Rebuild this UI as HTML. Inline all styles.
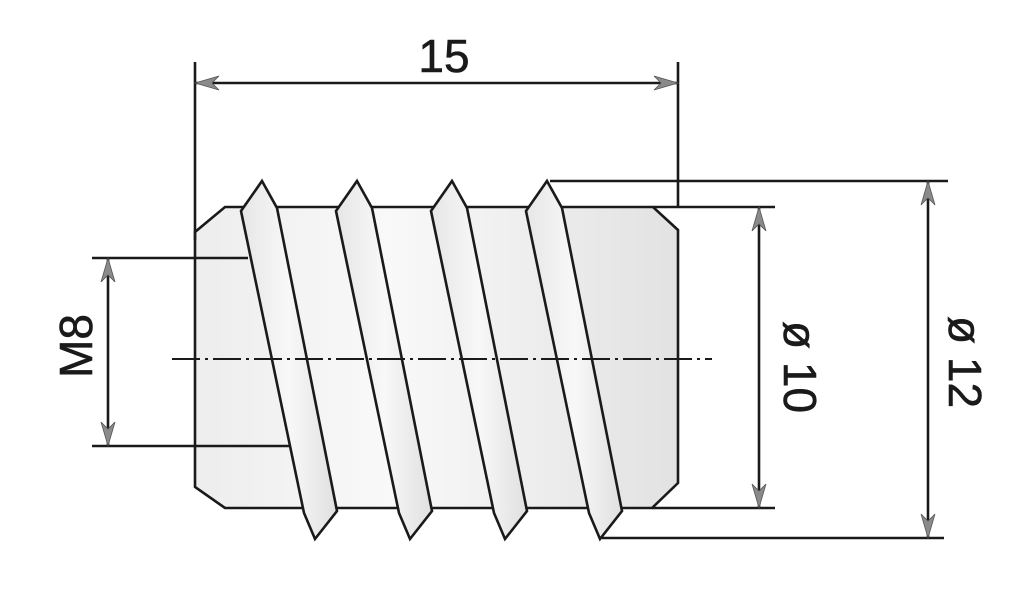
<!DOCTYPE html>
<html><head><style>html,body{margin:0;padding:0;background:#fff}svg{display:block}</style></head>
<body>
<svg width="1024" height="605" viewBox="0 0 1024 605" xmlns="http://www.w3.org/2000/svg">
<defs>
<linearGradient id="g" x1="0" y1="0" x2="1" y2="0">
<stop offset="0" stop-color="#e6e6e7"/><stop offset="0.5" stop-color="#f8f8f8"/><stop offset="1" stop-color="#e0e0e1"/>
</linearGradient>
<linearGradient id="gb" x1="0" y1="0" x2="1" y2="0">
<stop offset="0" stop-color="#ededed"/><stop offset="0.4" stop-color="#f9f9f9"/><stop offset="1" stop-color="#e2e2e3"/>
</linearGradient>
<g id="ah"><path d="M0 0 L-7 24 L0 17 L7 24 Z" fill="#8a8a8a" stroke="#555" stroke-width="0.8"/></g>
</defs>
<g stroke="#1a1a1a" stroke-width="2.6" fill="none" stroke-linejoin="miter">
<polygon points="225,207 653,207 678,230 678,483 652,508 225,508 195,487 195,232" fill="url(#gb)"/>
<g fill="url(#g)">
<polygon points="262,181 277,208 337,511 315,539 304,513 241,211"/>
<polygon points="357,181 372,208 432,511 410,539 399,513 336,211"/>
<polygon points="452,181 467,208 527,511 505,539 494,513 431,211"/>
<polygon points="547,181 562,208 622,511 600,539 589,513 526,211"/>
</g>
<line x1="195" y1="62" x2="195" y2="240"/>
<line x1="678" y1="62" x2="678" y2="207"/>
<line x1="550" y1="181" x2="948" y2="181"/>
<line x1="602" y1="538" x2="944" y2="538"/>
<line x1="653" y1="207" x2="775" y2="207"/>
<line x1="652" y1="508" x2="775" y2="508"/>
<line x1="92" y1="258" x2="248" y2="258"/>
<line x1="92" y1="446" x2="290" y2="446"/>
<line x1="195" y1="83" x2="678" y2="83"/>
<line x1="928" y1="181" x2="928" y2="538"/>
<line x1="759" y1="207" x2="759" y2="508"/>
<line x1="108" y1="258" x2="108" y2="446"/>
<line x1="172" y1="359" x2="712" y2="359" stroke-width="2" stroke-dasharray="28,5,3,5"/>
</g>
<use href="#ah" transform="translate(195,83) rotate(-90)"/>
<use href="#ah" transform="translate(678,83) rotate(90)"/>
<use href="#ah" transform="translate(928,181)"/>
<use href="#ah" transform="translate(928,538) rotate(180)"/>
<use href="#ah" transform="translate(759,207)"/>
<use href="#ah" transform="translate(759,508) rotate(180)"/>
<use href="#ah" transform="translate(108,258)"/>
<use href="#ah" transform="translate(108,446) rotate(180)"/>
<g font-family="Liberation Sans, sans-serif" font-size="46" fill="#1a1a1a" text-anchor="middle" stroke="#1a1a1a" stroke-width="0.6">
<text x="444" y="72">15</text>
<text transform="translate(784,367) rotate(90)">ø 10</text>
<text transform="translate(949,362) rotate(90)">ø 12</text>
<text transform="translate(92,346) rotate(-90)">M8</text>
</g>
</svg>
</body></html>
